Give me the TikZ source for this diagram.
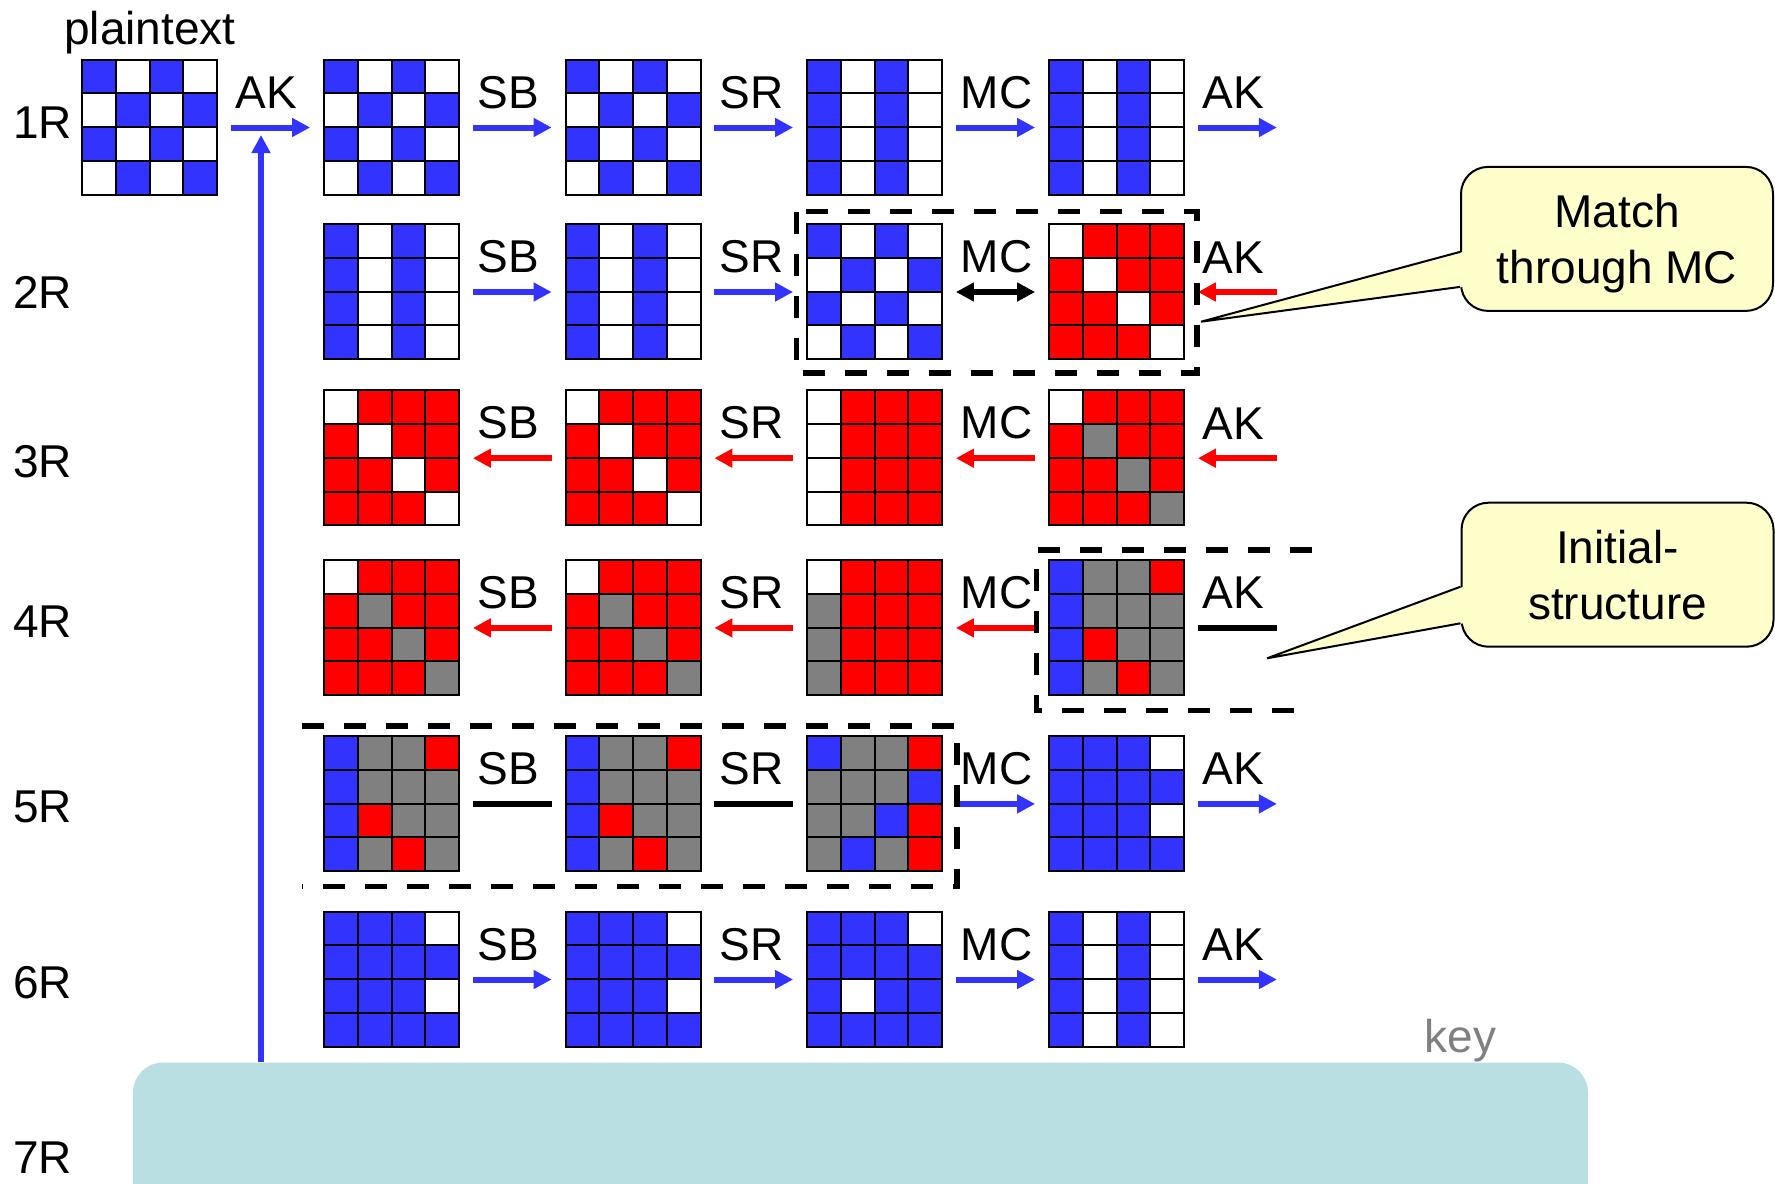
\documentclass[tikz,border=0pt]{standalone}
\usepackage{fontspec}
\setmainfont{Liberation Sans}
\usetikzlibrary{positioning,arrows.meta,calc}
\definecolor{stateBlue}{HTML}{3333FF}
\definecolor{stateRed}{HTML}{FF0000}
\definecolor{stateGray}{HTML}{808080}
\definecolor{noteYellow}{HTML}{FFFFCC}
\definecolor{keyTeal}{HTML}{B9DFE2}
\definecolor{keyGray}{HTML}{808080}
\colorlet{B}{stateBlue}
\colorlet{R}{stateRed}
\colorlet{G}{stateGray}
\colorlet{W}{white}

\newcommand{\aesstate}[3]{%
  \node[statebox] (#1) at (#2) {};
  \foreach \clr [count=\k from 0] in {#3} {
    \pgfmathtruncatemacro{\rr}{\k/4}
    \pgfmathtruncatemacro{\cc}{mod(\k,4)}
    \filldraw[fill=\clr, draw=black, line width=1pt]
      ($(#1.north west)+(\cc*33.75,\rr*33.75)$) rectangle ++(33.75,33.75);
  }
}

\begin{document}
\begin{tikzpicture}[x=0.5pt, y=-0.5pt, font=\fontsize{23pt}{28pt}\selectfont,
  statebox/.style={minimum size=67.5pt, inner sep=0pt},
  opline/.style={line width=3pt, shorten <=6.5pt, shorten >=7pt},
  fwdarrow/.style={opline, draw=stateBlue, -{Triangle[length=9pt,width=9pt]}},
  backarrow/.style={opline, draw=stateRed, {Triangle[length=9pt,width=9pt]}-},
  matcharrow/.style={opline, draw=black, {Triangle[length=9pt,width=9pt]}-{Triangle[length=9pt,width=9pt]}},
  cutline/.style={opline, draw=black},
  oplabel/.style={pos=0, anchor=south west, inner sep=0pt, xshift=7.5pt, yshift=8pt},
  rowlabel/.style={anchor=base west, inner sep=0pt},
  groupline/.style={line width=2.6pt, dash pattern=on 11pt off 10pt},
  note/.style={draw=black, line width=1pt, fill=noteYellow, rounded corners=13.5pt,
    minimum width=156pt, minimum height=72pt, align=center, text depth=0pt},
  noteline/.style={draw=black, line width=1pt},
  keybox/.style={fill=keyTeal, rounded corners=15pt, minimum width=727.5pt,
    minimum height=120pt, inner sep=0pt}]
\path[use as bounding box] (0,0) rectangle (1775,1183);
\clip (0,0) rectangle (1775,1183);

\aesstate{g10}{150,127.5}{B,W,B,W,W,B,W,B,B,W,B,W,W,B,W,B}
\aesstate{g11}{392,127.5}{B,W,B,W,W,B,W,B,B,W,B,W,W,B,W,B}
\aesstate{g12}{633.5,127.5}{B,W,B,W,W,B,W,B,B,W,B,W,W,B,W,B}
\aesstate{g13}{875,127.5}{B,W,B,W,B,W,B,W,B,W,B,W,B,W,B,W}
\aesstate{g14}{1117,127.5}{B,W,B,W,B,W,B,W,B,W,B,W,B,W,B,W}

\aesstate{g21}{392,292}{B,W,B,W,B,W,B,W,B,W,B,W,B,W,B,W}
\aesstate{g22}{633.5,292}{B,W,B,W,B,W,B,W,B,W,B,W,B,W,B,W}
\aesstate{g23}{875,292}{B,W,B,W,W,B,W,B,B,W,B,W,W,B,W,B}
\aesstate{g24}{1117,292}{W,R,R,R,R,W,R,R,R,R,W,R,R,R,R,W}

\aesstate{g31}{392,458.2}{W,R,R,R,R,W,R,R,R,R,W,R,R,R,R,W}
\aesstate{g32}{633.5,458.2}{W,R,R,R,R,W,R,R,R,R,W,R,R,R,R,W}
\aesstate{g33}{875,458.2}{W,R,R,R,W,R,R,R,W,R,R,R,W,R,R,R}
\aesstate{g34}{1117,458.2}{W,R,R,R,R,G,R,R,R,R,G,R,R,R,R,G}

\aesstate{g41}{392,627.9}{W,R,R,R,R,G,R,R,R,R,G,R,R,R,R,G}
\aesstate{g42}{633.5,627.9}{W,R,R,R,R,G,R,R,R,R,G,R,R,R,R,G}
\aesstate{g43}{875,627.9}{W,R,R,R,G,R,R,R,G,R,R,R,G,R,R,R}
\aesstate{g44}{1117,627.9}{B,G,G,R,B,G,G,G,B,R,G,G,B,G,R,G}

\aesstate{g51}{392,803.9}{B,G,G,R,B,G,G,G,B,R,G,G,B,G,R,G}
\aesstate{g52}{633.5,803.9}{B,G,G,R,B,G,G,G,B,R,G,G,B,G,R,G}
\aesstate{g53}{875,803.9}{B,G,G,R,G,G,G,B,G,G,B,R,G,B,G,R}
\aesstate{g54}{1117,803.9}{B,B,B,W,B,B,B,B,B,B,B,W,B,B,B,B}

\aesstate{g61}{392,979.5}{B,B,B,W,B,B,B,B,B,B,B,W,B,B,B,B}
\aesstate{g62}{633.5,979.5}{B,B,B,W,B,B,B,B,B,B,B,W,B,B,B,B}
\aesstate{g63}{875,979.5}{B,B,B,W,B,B,B,B,B,W,B,B,B,B,B,B}
\aesstate{g64}{1117,979.5}{B,W,B,W,B,W,B,W,B,W,B,W,B,W,B,W}

\node[above=7.5pt of g10, anchor=base] (ptxt) {plaintext};
\node[rowlabel] (r1) at (13,138) {1R};
\node[rowlabel] (r2) at (13,308) {2R};
\node[rowlabel] (r3) at (13,477.5) {3R};
\node[rowlabel] (r4) at (13,637) {4R};
\node[rowlabel] (r5) at (13,822) {5R};
\node[rowlabel] (r6) at (13,998) {6R};
\node[rowlabel] (r7) at (13,1173) {7R};

\coordinate[right=53pt of g14] (ak1);
\coordinate[right=53pt of g24] (ak2);
\coordinate[right=53pt of g34] (ak3);
\coordinate[right=53pt of g44] (ak4);
\coordinate[right=53pt of g54] (ak5);
\coordinate[right=53pt of g64] (ak6);

\draw[fwdarrow] (g10) -- node[oplabel] {AK} (g11);
\draw[fwdarrow] (g11) -- node[oplabel] {SB} (g12);
\draw[fwdarrow] (g12) -- node[oplabel] {SR} (g13);
\draw[fwdarrow] (g13) -- node[oplabel] {MC} (g14);
\draw[fwdarrow] (g14) -- node[oplabel] {AK} (ak1);

\draw[fwdarrow] (g21) -- node[oplabel] {SB} (g22);
\draw[fwdarrow] (g22) -- node[oplabel] {SR} (g23);
\draw[matcharrow] (g23) -- node[oplabel] {MC} (g24);
\draw[backarrow] (g24) -- node[oplabel] {AK} (ak2);

\draw[backarrow] (g31) -- node[oplabel] {SB} (g32);
\draw[backarrow] (g32) -- node[oplabel] {SR} (g33);
\draw[backarrow] (g33) -- node[oplabel] {MC} (g34);
\draw[backarrow] (g34) -- node[oplabel] {AK} (ak3);

\draw[backarrow] (g41) -- node[oplabel] {SB} (g42);
\draw[backarrow] (g42) -- node[oplabel] {SR} (g43);
\draw[backarrow] (g43) -- node[oplabel] {MC} (g44);
\draw[cutline] (g44) -- node[oplabel] {AK} (ak4);

\draw[cutline] (g51) -- node[oplabel] {SB} (g52);
\draw[cutline] (g52) -- node[oplabel] {SR} (g53);
\draw[fwdarrow] (g53) -- node[oplabel] {MC} (g54);
\draw[fwdarrow] (g54) -- node[oplabel] {AK} (ak5);

\draw[fwdarrow] (g61) -- node[oplabel] {SB} (g62);
\draw[fwdarrow] (g62) -- node[oplabel] {SR} (g63);
\draw[fwdarrow] (g63) -- node[oplabel] {MC} (g64);
\draw[fwdarrow] (g64) -- node[oplabel] {AK} (ak6);

\draw[groupline] ($(g23.north west)+(-10.5,-12.5)$) rectangle ($(g24.south east)+(12,13)$);
\draw[groupline] ($(g44.north west)+(263,-10)$) -- ($(g44.north west)+(-12.5,-10)$)
  -- ($(g44.south west)+(-12.5,15)$) -- ($(g44.south west)+(263,15)$);
\draw[groupline] ($(g51.north west)+(-22,-10)$) -- ($(g53.north east)+(14,-10)$)
  -- ($(g53.south east)+(14,15)$) -- ($(g51.south west)+(-22,15)$);

\node[note] (mcnote) at (1617,238.9) {Match\\through MC};
\coordinate (mctip) at (1201,321.7);
\fill[noteYellow] ($(mcnote.west)+(3,13)$) -- (mctip) -- ($(mcnote.west)+(3,48)$) -- cycle;
\draw[noteline] ($(mcnote.west)+(0,13)$) -- (mctip) -- ($(mcnote.west)+(0,48)$);

\node[note] (isnote) at (1617.5,574.7) {Initial-\\structure};
\coordinate (istip) at (1267,658.3);
\fill[noteYellow] ($(isnote.west)+(3,12)$) -- (istip) -- ($(isnote.west)+(3,48.6)$) -- cycle;
\draw[noteline] ($(isnote.west)+(0,12)$) -- (istip) -- ($(isnote.west)+(0,48.6)$);

\node[anchor=base west, inner sep=0pt, text=keyGray] (keytxt) at (1424,1052) {key};
\node[keybox] (keybox) at (860.5,1182.5) {};
\coordinate (keyin) at (261,135);
\draw[line width=2.75pt, draw=stateBlue, -{Triangle[length=9pt,width=9pt]}] (keybox.north -| keyin) -- (keyin);
\end{tikzpicture}
\end{document}
